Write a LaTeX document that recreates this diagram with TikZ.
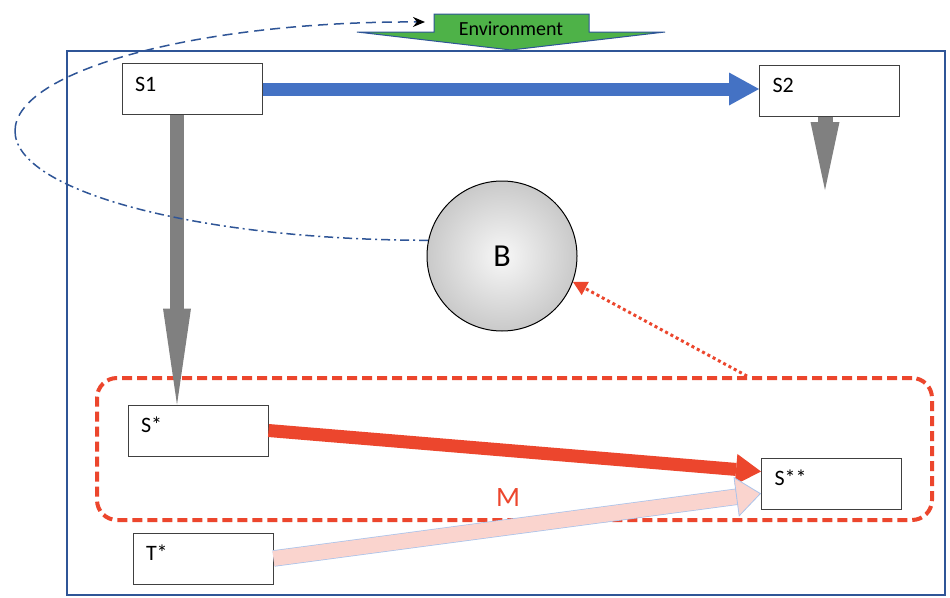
\documentclass[tikz,border=0pt]{standalone}
\usepackage{fontspec}
\setmainfont{Carlito}
\usepackage{tikz}
\usetikzlibrary{arrows.meta,positioning,calc}
\definecolor{cBlue}{RGB}{68,114,196}
\definecolor{cFrame}{RGB}{47,85,151}
\definecolor{cRed}{RGB}{236,70,45}
\definecolor{cPink}{RGB}{250,212,206}
\definecolor{cPinkEdge}{RGB}{170,195,235}
\definecolor{cGreen}{RGB}{78,178,72}
\definecolor{cGrey}{RGB}{128,128,128}
\definecolor{cBox}{RGB}{64,64,64}

\begin{document}
\begin{tikzpicture}[x=1pt,y=-1pt,
    state/.style={rectangle,draw=cBox,line width=1pt,fill=white,minimum width=140pt,minimum height=51pt,
      text width=114pt,align=left,inner xsep=13pt,text height=14pt,text depth=10pt,font=\fontsize{22}{26}\selectfont},
    ball/.style={circle,draw=black,line width=1pt,minimum size=150pt,inner sep=0pt,shading=radial,
      inner color=gray!6,outer color=gray!42,text height=20pt,text depth=0pt,font=\fontsize{32}{38}\selectfont},
    group/.style={rectangle,draw=cRed,line width=4pt,rounded corners=20pt,dash pattern=on 10pt off 5pt,
      minimum width=835pt,minimum height=142pt},
    loopline/.style={cFrame,line width=1.5pt},
    bigarrow/.style={line cap=butt}
  ]
  \useasboundingbox (0,0) rectangle (950,597);
  \fill[white] (0,0) rectangle (950,597);

  % frame and environment
  \draw[cFrame,line width=1.5pt] (67,51) rectangle (945,595);
  \draw[fill=cGreen,draw=cFrame,line width=1pt] (434,14) -- (589,14) -- (589,32) -- (665,32)
    -- (511,50) -- (357,32) -- (434,32) -- cycle;
  \node[font=\fontsize{20}{24}\selectfont] (env) at (511,29) {Environment};
  \coordinate (envin) at (425,22);

  % red group round S* and S**
  \node[group] (grp) at (514.5,449) {};

  \node[state] (s1)  at (192,89)     {S1};
  \node[state] (s2)  at (829.5,90.5) {S2};
  \node[state] (sst) at (198,430.5)  {S*};
  \node[state] (sss) at (831.5,483.5) {S**};
  \node[state] (tst) at (203,558.5)  {T*};
  \node[ball]  (B)   at (502,256)    {B};
  \node[text=cRed,font=\fontsize{28}{32}\selectfont] (m) at (508,498) {M};
  \coordinate (s2down) at (825,190);
  \coordinate (loopl) at (15,131);

  % big arrows
  \draw[bigarrow,cBlue,line width=13pt,-{Triangle[length=30pt,width=33pt,line width=0pt]}]
    (s1.east) -- (s1.east -| s2.west);
  \draw[bigarrow,cGrey,line width=14pt,-{Triangle[length=96pt,width=28pt,line width=0pt]}]
    ([xshift=-15pt]s1.south) -- ([xshift=-15pt]s1.south |- sst.north);
  \draw[bigarrow,cGrey,line width=15pt,-{Triangle[length=68pt,width=29pt,line width=0pt]}]
    ([xshift=-4.5pt]s2.south) -- (s2down);
  \draw[bigarrow,cRed,line width=13pt,-{Triangle[length=25pt,width=31pt,line width=0pt]}]
    (sst.east) -- ([yshift=12pt]sss.west);
  \draw[bigarrow,cPinkEdge,line width=16.5pt,shorten >=20pt] (tst.east) -- ([yshift=-10pt]sss.west);
  \draw[bigarrow,cPink,line width=15pt,
    -{Triangle[length=25pt,width=40pt,fill=cPink,color=cPinkEdge,line width=0.8pt]}]
    (tst.east) -- ([yshift=-10pt]sss.west);

  % feedback to B
  \draw[cRed,line width=3pt,dash pattern=on 3pt off 3pt,-{Triangle[length=14pt,width=15pt,line width=0pt]}]
    ([xshift=232.5pt]grp.north) -- (B.-20);

  % loop from B to environment
  \draw[loopline,dash pattern=on 9pt off 4pt on 2pt off 4pt]
    (B.168) .. controls (201,240) and (15,192) .. (loopl);
  \draw[loopline,dash pattern=on 10pt off 6pt,-{Stealth[length=12pt,width=10pt,black]}]
    (loopl) .. controls (15,70) and (201,21) .. (envin);
\end{tikzpicture}
\end{document}
